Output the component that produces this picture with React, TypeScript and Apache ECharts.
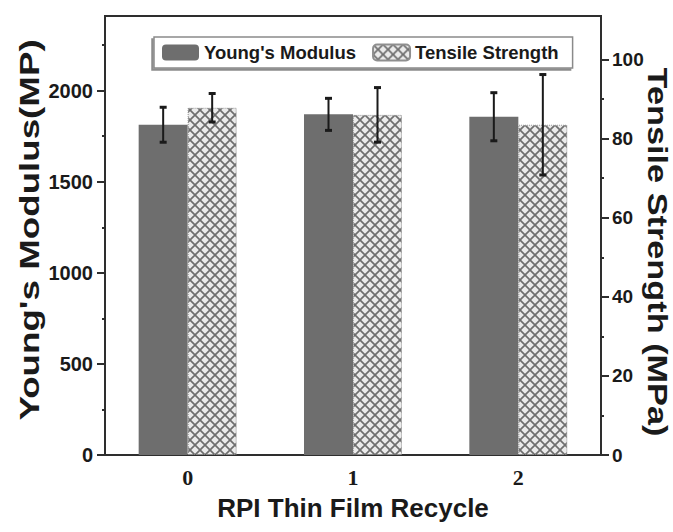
import React, { useEffect, useRef } from "react";
import * as echarts from "echarts";

const categories = ["0", "1", "2"];
const youngsModulus = [1813, 1870, 1857];
const youngsError = [96, 88, 132];
const tensileStrength = [87.8, 86, 83.5];
const tensileError = [3.6, 6.9, 12.7];
const leftTicks = [0, 500, 1000, 1500, 2000];
const leftMinorTicks = [250, 750, 1250, 1750, 2250];
const rightTicks = [0, 20, 40, 60, 80, 100];
const rightMinorTicks = [10, 30, 50, 70, 90];

const FONT = "'Liberation Sans', Arial, sans-serif";
const AXIS_COLOR = "#2e2e2e";
const TEXT_COLOR = "#1a1a1a";
const BAR_W = 49;

function makePattern(): HTMLCanvasElement {
  const c = document.createElement("canvas");
  c.width = 10;
  c.height = 10;
  const ctx = c.getContext("2d")!;
  ctx.fillStyle = "#ebebeb";
  ctx.fillRect(0, 0, 10, 10);
  ctx.strokeStyle = "#6f6f6f";
  ctx.lineWidth = 1.7;
  ctx.beginPath();
  ctx.moveTo(-1, -1);
  ctx.lineTo(11, 11);
  ctx.moveTo(11, -1);
  ctx.lineTo(-1, 11);
  ctx.stroke();
  return c;
}

function errorSeries(values: number[], errors: number[], yAxisIndex: number, offset: number) {
  return {
    type: "custom",
    xAxisIndex: 0,
    yAxisIndex,
    z: 10,
    silent: true,
    encode: { x: 0, y: [1, 2] },
    data: values.map((v, i) => [i, v - errors[i], v + errors[i]]),
    renderItem: (_params: any, api: any) => {
      const lo = api.coord([api.value(0), api.value(1)]);
      const hi = api.coord([api.value(0), api.value(2)]);
      const x = lo[0] + offset;
      const cap = 3.5;
      const st = { stroke: "#1a1a1a", lineWidth: 2 };
      return {
        type: "group",
        children: [
          { type: "line", shape: { x1: x, y1: hi[1], x2: x, y2: lo[1] }, style: st },
          { type: "line", shape: { x1: x - cap, y1: hi[1], x2: x + cap, y2: hi[1] }, style: { ...st, lineWidth: 3 } },
          { type: "line", shape: { x1: x - cap, y1: lo[1], x2: x + cap, y2: lo[1] }, style: { ...st, lineWidth: 3 } },
        ],
      };
    },
  };
}

export default function App() {
  const ref = useRef<HTMLDivElement>(null);
  useEffect(() => {
    if (!ref.current) return;
    const chart = echarts.init(ref.current, null, { renderer: "svg" });
    const pattern = makePattern();
    const labelStyle = {
      fontFamily: FONT,
      fontWeight: "bold",
      fontSize: 20,
      color: TEXT_COLOR,
      formatter: (v: number) => String(v),
    };
    const option: any = {
      animation: false,
      backgroundColor: "#ffffff",
      grid: {
        left: 105,
        right: 72,
        top: 16,
        bottom: 77,
        show: true,
        borderColor: AXIS_COLOR,
        borderWidth: 2,
        outerBoundsMode: "none",
      },
      legend: {
        data: ["Young's Modulus", "Tensile Strength"],
        left: 154,
        top: 37,
        padding: [6, 14, 6, 8],
        itemWidth: 37,
        itemHeight: 16,
        itemGap: 16,
        backgroundColor: "#ffffff",
        borderColor: "#8a8a8a",
        borderWidth: 1.5,
        shadowColor: "rgba(0,0,0,0.45)",
        shadowOffsetX: -2,
        shadowOffsetY: 2,
        shadowBlur: 1,
        textStyle: { fontFamily: FONT, fontWeight: "bold", fontSize: 18.5, color: TEXT_COLOR },
      },
      xAxis: [
        {
          type: "category",
          data: categories,
          axisLine: { lineStyle: { color: AXIS_COLOR, width: 2 } },
          axisTick: { alignWithLabel: true, length: 7, lineStyle: { color: AXIS_COLOR, width: 2 } },
          axisLabel: { fontFamily: "'Liberation Serif', serif", fontWeight: "bold", fontSize: 22, color: TEXT_COLOR, margin: 11 },
          name: "RPI Thin Film Recycle",
          nameLocation: "middle",
          nameGap: 40,
          nameTextStyle: { fontFamily: FONT, fontWeight: "bold", fontSize: 26, color: TEXT_COLOR },
        },
        {
          type: "category",
          data: categories,
          position: "bottom",
          axisLine: { show: false },
          axisTick: { length: 3, lineStyle: { color: AXIS_COLOR, width: 2 } },
          axisLabel: { show: false },
        },
      ],
      yAxis: [
        {
          type: "value",
          position: "left",
          min: 0,
          max: 2410,
          interval: 500,
          splitLine: { show: false },
          axisLine: { show: true, lineStyle: { color: AXIS_COLOR, width: 2 } },
          axisTick: { show: true, length: 8, customValues: leftTicks, lineStyle: { color: AXIS_COLOR, width: 2 } },
          axisLabel: { ...labelStyle, margin: 12, customValues: leftTicks },
        },
        {
          type: "value",
          position: "right",
          min: 0,
          max: 111,
          interval: 20,
          splitLine: { show: false },
          axisLine: { show: true, lineStyle: { color: AXIS_COLOR, width: 2 } },
          axisTick: { show: true, length: 8, customValues: rightTicks, lineStyle: { color: AXIS_COLOR, width: 2 } },
          axisLabel: { ...labelStyle, fontSize: 19, margin: 11, customValues: rightTicks },
        },
        {
          type: "value",
          position: "left",
          min: 0,
          max: 2410,
          splitLine: { show: false },
          axisLine: { show: false },
          axisTick: { show: true, length: 3, customValues: leftMinorTicks, lineStyle: { color: AXIS_COLOR, width: 2 } },
          axisLabel: { show: false },
        },
        {
          type: "value",
          position: "right",
          min: 0,
          max: 111,
          splitLine: { show: false },
          axisLine: { show: false },
          axisTick: { show: true, length: 3, customValues: rightMinorTicks, lineStyle: { color: AXIS_COLOR, width: 2 } },
          axisLabel: { show: false },
        },
      ],
      series: [
        {
          name: "Young's Modulus",
          type: "bar",
          xAxisIndex: 0,
          yAxisIndex: 0,
          barWidth: BAR_W,
          barGap: "0%",
          data: youngsModulus,
          itemStyle: { color: "#6e6e6e" },
        },
        {
          name: "Tensile Strength",
          type: "bar",
          xAxisIndex: 0,
          yAxisIndex: 1,
          barWidth: BAR_W,
          barGap: "0%",
          data: tensileStrength,
          itemStyle: {
            color: { image: pattern, repeat: "repeat" },
            borderColor: "#8f8f8f",
            borderWidth: 1,
            borderType: "dotted",
          },
        },
        errorSeries(youngsModulus, youngsError, 0, -BAR_W / 2),
        errorSeries(tensileStrength, tensileError, 1, BAR_W / 2),
      ],
      graphic: [
        {
          type: "text",
          x: 29.5,
          y: 230,
          rotation: Math.PI / 2,
          scaleX: 1.36,
          style: {
            text: "Young's Modulus(MP)",
            font: `bold 27px ${FONT}`,
            fill: TEXT_COLOR,
            textAlign: "center",
            textVerticalAlign: "middle",
          },
        },
        {
          type: "text",
          x: 657.5,
          y: 252,
          rotation: -Math.PI / 2,
          scaleX: 1.27,
          style: {
            text: "Tensile Strength (MPa)",
            font: `bold 27px ${FONT}`,
            fill: TEXT_COLOR,
            textAlign: "center",
            textVerticalAlign: "middle",
          },
        },
      ],
    };
    chart.setOption(option);
    return () => chart.dispose();
  }, []);
  return (
    <div
      ref={ref}
      style={{ position: "fixed", left: 0, top: 0, width: 673, height: 532 }}
    />
  );
}
